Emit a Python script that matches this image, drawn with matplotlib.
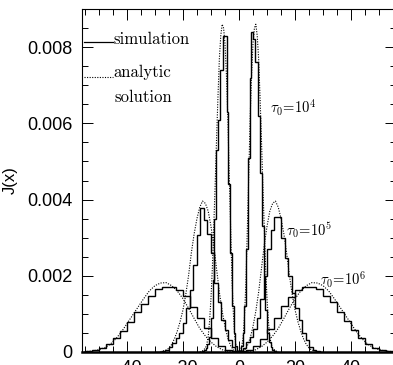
import numpy as np
import matplotlib.pyplot as plt
from matplotlib.ticker import MultipleLocator, FuncFormatter

# analytic solution (x >= 0 half, curve is symmetric)
ana6_x = [0, 4, 6, 8, 10, 12, 14, 16, 18, 20, 22, 24, 26, 28, 30, 32, 34, 36, 38,
          40, 42, 44, 46, 48, 50, 52, 56]
ana6_j = [0, 0.00002, 0.00006, 0.00014, 0.00026, 0.00042, 0.00062, 0.00088, 0.00115,
          0.0014, 0.0016, 0.00174, 0.00182, 0.00181, 0.00174, 0.0016, 0.0014, 0.00118,
          0.00096, 0.00074, 0.00052, 0.00034, 0.0002, 0.00011, 0.00006, 0.00003, 0.0]

ana5_x = [0, 1, 2, 3, 4, 5, 6, 7, 8, 9, 10, 11, 12, 13, 14, 15, 16, 17, 18, 19, 20,
          21, 22, 23, 24, 25, 26, 28]
ana5_j = [0, 0.00002, 0.00005, 0.00017, 0.00037, 0.00067, 0.00107, 0.00157, 0.00218,
          0.0028, 0.0033, 0.0037, 0.0039, 0.00396, 0.0038, 0.0035, 0.0031, 0.0026,
          0.002, 0.0015, 0.0011, 0.0008, 0.00055, 0.00035, 0.0002, 0.0001, 0.00005, 0.00001]

ana4_x = [0, 0.5, 1, 1.5, 2, 2.5, 3, 3.5, 4, 4.5, 5, 5.5, 6, 6.5, 7, 7.5, 8, 8.5, 9,
          9.5, 10, 10.5, 11, 11.5, 12, 13, 14]
ana4_j = [0, 0.00005, 0.00015, 0.0004, 0.001, 0.0019, 0.0033, 0.0047, 0.0062, 0.0073,
          0.0081, 0.0085, 0.0086, 0.0083, 0.0077, 0.0067, 0.0056, 0.0044, 0.0033,
          0.0022, 0.0014, 0.0008, 0.0004, 0.0002, 0.0001, 0.00003, 0.0]

# simulation histograms (bin widths 2.5, 1.25, 0.625)
sim6_lo, sim6_hi, sim6_w = -55, 55, 2.5
sim6_j = [0.00002, 0.00005, 0.0001, 0.00022, 0.00036, 0.00054, 0.00078, 0.00106,
          0.00126, 0.00146, 0.00164, 0.00171, 0.00171, 0.00163, 0.00148, 0.00118,
          0.0009, 0.00062, 0.00036, 0.00017, 0.00006, 0.00002,
          0.00002, 0.00005, 0.00016, 0.00035, 0.0006, 0.00088, 0.0012, 0.00145,
          0.00163, 0.0017, 0.00171, 0.00165, 0.00147, 0.0013, 0.00106, 0.00082,
          0.00058, 0.00036, 0.0002, 0.0001, 0.00005, 0.00002]

sim5_lo, sim5_hi, sim5_w = -30, 30, 1.25
sim5_j = [0, 0.00001, 0.00003, 0.00006, 0.00012, 0.00024, 0.00036, 0.0005, 0.00075,
          0.00115, 0.00163, 0.00229, 0.00308, 0.00378, 0.00347, 0.0031, 0.0026, 0.0018,
          0.0013, 0.00084, 0.00058, 0.00032, 0.00012, 0.00003,
          0.00003, 0.0001, 0.00025, 0.0004, 0.0006, 0.0009, 0.0014, 0.002, 0.0027,
          0.0032, 0.00353, 0.00353, 0.003, 0.00247, 0.002, 0.00155, 0.00116, 0.00084,
          0.0005, 0.00032, 0.00013, 0.00005, 0.00002, 0]

sim4_lo, sim4_hi, sim4_w = -13.75, 13.75, 0.625
sim4_j = [0.00001, 0.00002, 0.00005, 0.0001, 0.0002, 0.0004, 0.0009, 0.0019, 0.0035,
          0.0053, 0.0061, 0.0074, 0.0074, 0.0083, 0.0083, 0.0063, 0.0044, 0.0026,
          0.0012, 0.0005, 0.00015, 0.00003,
          0.00003, 0.00015, 0.0005, 0.0012, 0.0027, 0.0051, 0.0072, 0.0084, 0.0082,
          0.0076, 0.0076, 0.0062, 0.0047, 0.0033, 0.002, 0.0011, 0.0005, 0.00025,
          0.00012, 0.00006, 0.00003, 0.00001]

labels = [r'$\tau_0\!=\!10^4$', r'$\tau_0\!=\!10^5$', r'$\tau_0\!=\!10^6$']

plt.rcParams['mathtext.fontset'] = 'cm'
plt.rcParams['font.family'] = ['Liberation Sans', 'DejaVu Sans']

fig = plt.figure(figsize=(3.93, 3.65), dpi=100)
ax = fig.add_axes([82/393, 13/365, 314/393, 343/365])


def mirror(x, y):
    x = np.asarray(x, float)
    y = np.asarray(y, float)
    return np.concatenate([-x[::-1], x[1:]]), np.concatenate([y[::-1], y[1:]])


for lo, hi, w, vals in [(sim6_lo, sim6_hi, sim6_w, sim6_j),
                        (sim5_lo, sim5_hi, sim5_w, sim5_j),
                        (sim4_lo, sim4_hi, sim4_w, sim4_j)]:
    edges = np.arange(lo, hi + w/2, w)
    ax.stairs(vals, edges, color='k', lw=1.0)

for xx, jj in [(ana6_x, ana6_j), (ana5_x, ana5_j), (ana4_x, ana4_j)]:
    mx, mj = mirror(xx, jj)
    ax.plot(mx, mj, color='k', lw=0.8, ls=(0, (1, 1.3)))

# curve labels
ax.text(11, 0.0064, labels[0], fontsize=10.5, va='center')
ax.text(16.7, 0.0032, labels[1], fontsize=10.5, va='center')
ax.text(29, 0.0019, labels[2], fontsize=10.5, va='center')

# hand-made legend in the upper left corner
ax.plot([0.006, 0.099], [0.904, 0.904], transform=ax.transAxes, color='k', lw=0.9)
ax.plot([0.006, 0.099], [0.802, 0.802], transform=ax.transAxes, color='k', lw=0.8,
        ls=(0, (1, 1.3)))
ax.text(0.099, 0.898, 'simulation', transform=ax.transAxes, family='cmr10',
        fontsize=12, va='baseline')
ax.text(0.099, 0.802, 'analytic', transform=ax.transAxes, family='cmr10',
        fontsize=12, va='baseline')
ax.text(0.105, 0.729, 'solution', transform=ax.transAxes, family='cmr10',
        fontsize=12, va='baseline')

ax.set_xlim(-56, 56)
ax.set_ylim(0, 0.009)
ax.xaxis.set_major_locator(MultipleLocator(20))
ax.xaxis.set_minor_locator(MultipleLocator(5))
ax.yaxis.set_major_locator(MultipleLocator(0.002))
ax.yaxis.set_minor_locator(MultipleLocator(0.0005))
ax.yaxis.set_major_formatter(FuncFormatter(lambda v, p: '0' if abs(v) < 1e-9 else '%.3f' % v))
ax.tick_params(which='both', direction='in', top=True, right=True, width=0.7, labelsize=13)
ax.tick_params(which='major', length=8)
ax.tick_params(which='minor', length=4.5)
ax.tick_params(axis='x', pad=6)
ax.tick_params(axis='y', pad=7)
for s in ['left', 'top', 'right']:
    ax.spines[s].set_linewidth(0.8)
ax.spines['bottom'].set_linewidth(1.8)

ax.set_ylabel('J(x)', fontsize=12)
ax.yaxis.set_label_coords(-0.205, 0.5)

fig.savefig('out.png', dpi=100)
